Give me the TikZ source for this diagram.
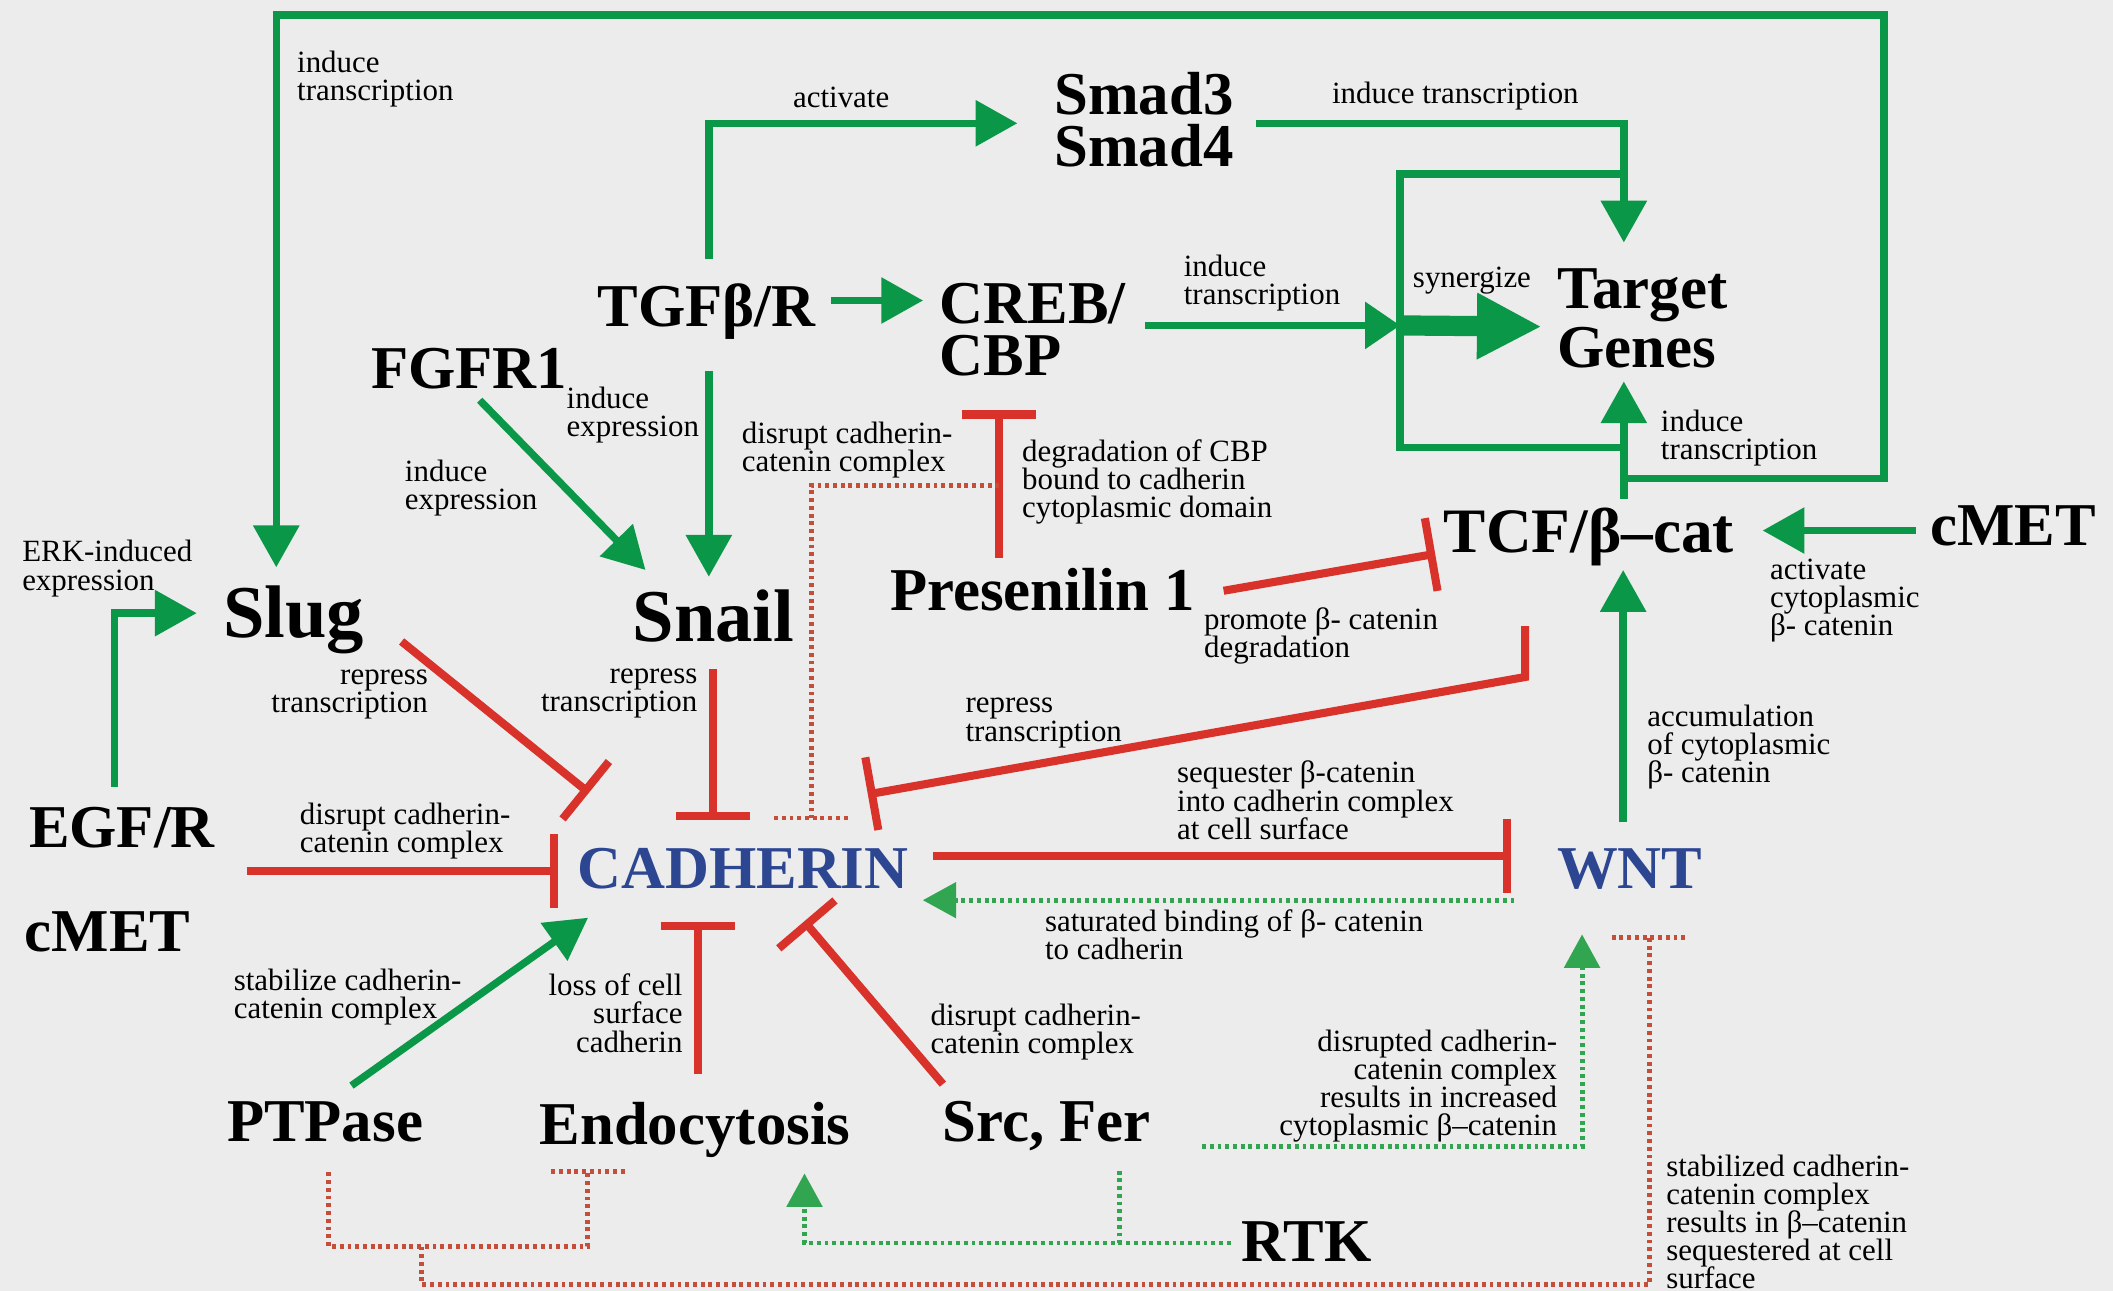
\documentclass[tikz,border=0pt]{standalone}
\usepackage{fontspec}
\setmainfont{Liberation Serif}
\usetikzlibrary{arrows.meta}
\definecolor{bgc}{RGB}{236,236,236}
\definecolor{gr}{RGB}{10,152,72}
\definecolor{rd}{RGB}{216,50,42}
\definecolor{blu}{RGB}{44,70,146}
\definecolor{rdot}{RGB}{196,78,58}
\definecolor{gdot}{RGB}{50,165,80}
\newcommand\tightls{\lineskiplimit-30pt\relax\lineskip0pt\relax}
\begin{document}
\lineskiplimit-30pt\relax
\begin{tikzpicture}[x=0.013476cm,y=-0.013476cm,
  lab/.style={inner sep=0pt,anchor=base west,font=\fontsize{17.3}{17}\selectfont\bfseries},
  biglab/.style={inner sep=0pt,anchor=base west,font=\fontsize{21.2}{21}\selectfont\bfseries},
  ann/.style={inner sep=0pt,anchor=base west,align=left,font=\fontsize{8.8}{8}\selectfont\tightls},
  annr/.style={inner sep=0pt,anchor=base east,align=right,font=\fontsize{8.8}{8}\selectfont\tightls},
  gline/.style={draw=gr,line width=2.1pt},
  garr/.style={draw=gr,line width=2.1pt,-{Triangle[width=12.7pt,length=11.9pt]}},
  rinh/.style={draw=rd,line width=2.3pt,-{Bar[width=21pt]}},
  rdotl/.style={draw=rdot,line width=1.4pt,dash pattern=on 1.1pt off 1.1pt},
  gdotl/.style={draw=gdot,line width=1.4pt,dash pattern=on 1.1pt off 1.1pt},
  gdotarr/.style={gdotl,-{Triangle[width=10pt,length=9.5pt]}}]
\fill[bgc] (0,0) rectangle (1568,958);
\useasboundingbox (0,0) rectangle (1568,958);

% ---------- main labels (anchor = baseline of last line) ----------
\node[lab,align=left,font=\fontsize{17.3}{14.8}\selectfont\bfseries\tightls] (smad) at (782,123.6) {Smad3\\Smad4};
\node[lab] (tgf) at (443,242) {TGFβ/R};
\node[lab,align=left,font=\fontsize{17.3}{15}\selectfont\bfseries\tightls] (creb) at (697,279) {CREB/\\CBP};
\node[lab,align=left,font=\fontsize{17.3}{16.7}\selectfont\bfseries\tightls] (target) at (1155,272.6) {Target\\Genes};
\node[lab] (fgfr) at (275,288) {FGFR1};
\node[biglab] (slug) at (165,473) {Slug};
\node[biglab] (snail) at (469,476) {Snail};
\node[lab] (pres) at (660,453) {Presenilin 1};
\node[lab,font=\fontsize{18}{18}\selectfont\bfseries] (tcf) at (1071,410) {TCF/β–cat};
\node[lab] (cmetr) at (1432,405) {cMET};
\node[lab] (egf) at (21,629) {EGF/R};
\node[lab] (cmetl) at (18,706) {cMET};
\node[lab,text=blu] (cad) at (428,659) {CADHERIN};
\node[lab,text=blu] (wnt) at (1155,659) {WNT};
\node[lab] (ptp) at (168,847) {PTPase};
\node[lab] (endo) at (400,849) {Endocytosis};
\node[lab] (src) at (699,847) {Src, Fer};
\node[lab] (rtk) at (921,936) {RTK};

% ---------- annotations (anchor = baseline of last line) ----------
\node[ann] (a1) at (220,74.9) {induce\\transcription};
\node[ann] (a2) at (588,80) {activate};
\node[ann] (a3) at (988,77) {induce transcription};
\node[ann] (a4) at (878,225.9) {induce\\transcription};
\node[ann] (a5) at (1048,213) {synergize};
\node[ann] (a6) at (420,323.9) {induce\\expression};
\node[ann] (a7) at (300,377.9) {induce\\expression};
\node[ann] (a8) at (550,349.9) {disrupt cadherin-\\catenin complex};
\node[ann] (a9) at (758,384.3) {degradation of CBP\\bound to cadherin\\cytoplasmic domain};
\node[ann] (a10) at (1232,340.9) {induce\\transcription};
\node[ann] (a11) at (16,437.9) {ERK-induced\\expression};
\node[ann] (a12) at (1313,471.7) {activate\\cytoplasmic\\β- catenin};
\node[ann] (a13) at (893,487.9) {promote β- catenin\\degradation};
\node[annr] (a14) at (318,528.9) {repress\\transcription};
\node[annr] (a15) at (518,527.9) {repress\\transcription};
\node[ann] (a16) at (716,549.9) {repress\\transcription};
\node[ann] (a17) at (1222,580.7) {accumulation\\of cytoplasmic\\β- catenin};
\node[ann] (a18) at (873,622.7) {sequester β-catenin\\into cadherin complex\\at cell surface};
\node[ann] (a19) at (222,632.9) {disrupt cadherin-\\catenin complex};
\node[ann] (a20) at (775,711.9) {saturated binding of β- catenin\\to cadherin};
\node[ann] (a21) at (173,755.9) {stabilize cadherin-\\catenin complex};
\node[annr] (a22) at (507,780.7) {loss of cell\\surface\\cadherin};
\node[ann] (a23) at (690,781.9) {disrupt cadherin-\\catenin complex};
\node[annr] (a24) at (1156,842.6) {disrupted cadherin-\\catenin complex\\results in increased\\cytoplasmic β–catenin};
\node[ann] (a25) at (1236,956.5) {stabilized cadherin-\\catenin complex\\results in β–catenin\\sequestered at cell\\surface};

% ---------- named connector ends ----------
\coordinate (tcfTop) at (1205,370);
\coordinate (tgTipB) at (1205,283);
\coordinate (jA) at (1205,355);
\coordinate (slugTip) at (205,421);
\coordinate (jB) at (1205,332);
\coordinate (jC) at (1205,129);
\coordinate (tgfUp) at (526,192);
\coordinate (smadTip) at (755,91.5);
\coordinate (tgfR) at (617,223);
\coordinate (crebTip) at (685,223);
\coordinate (tgfDn) at (526,275);
\coordinate (snailTip) at (526,428);
\coordinate (fgfOut) at (356,297);
\coordinate (snailTip2) at (479,423);
\coordinate (smadOut) at (932,91.5);
\coordinate (tgTipT) at (1205,180);
\coordinate (crebOut) at (850,241.5);
\coordinate (jD) at (1039,241.5);
\coordinate (tgTipL) at (1144,242.4);
\coordinate (cmetOut) at (1421.6,393.7);
\coordinate (tcfTipR) at (1308,393.7);
\coordinate (wntUp) at (1204.5,610);
\coordinate (tcfTipB) at (1204.5,423);
\coordinate (ptpOut) at (260.8,805.6);
\coordinate (cadTipP) at (436.4,681);
\coordinate (egfUp) at (85,584);
\coordinate (slugTipL) at (146,455);

\coordinate (slugOut) at (298,476);
\coordinate (cadBarS) at (437,588.3);
\coordinate (snailOut) at (529,496.5);
\coordinate (cadBarN) at (529,608.5);
\coordinate (tcfOut) at (1131.7,464.6);
\coordinate (cadBarNE) at (644,589.5);
\coordinate (egfOut) at (183,646.3);
\coordinate (cadBarW) at (414,646.3);
\coordinate (cadOut) at (692,635);
\coordinate (wntBar) at (1121.6,635);
\coordinate (endoOut) at (517.7,797);
\coordinate (cadBarB) at (517.7,684.4);
\coordinate (srcOut) at (699.7,804.5);
\coordinate (cadBarSE) at (596.8,683.7);
\coordinate (presOut) at (908,438.4);
\coordinate (tcfBar) at (1065,411);
\coordinate (presUp) at (741.5,413.8);
\coordinate (crebBar) at (741.5,304.6);

\coordinate (presJ) at (741.5,360);
\coordinate (cadDotN) at (602,607);
\coordinate (ptpDn) at (244,870);
\coordinate (endoDot) at (436,869);
\coordinate (ptpJ) at (313,925);
\coordinate (wntDot) at (1224,695.8);
\coordinate (wntDotOut) at (1123.8,668);
\coordinate (cadTipE) at (684.8,668);
\coordinate (srcR) at (892,850.9);
\coordinate (wntTipB) at (1174,693.4);
\coordinate (rtkOut) at (913.2,922.4);
\coordinate (endoTip) at (597,870.8);
\coordinate (srcDn) at (830.4,868.7);

% ---------- green solid connectors ----------
\draw[garr] (tcfTop) -- (tgTipB);
\draw[garr] (jA) -- (1398,355) -- (1398,11) -- (205,11) -- (slugTip);
\draw[gline] (jB) -- (1039,332) -- (1039,129) -- (jC);
\draw[garr] (tgfUp) |- (smadTip);
\draw[garr] (tgfR) -- (crebTip);
\draw[garr] (tgfDn) -- (snailTip);
\draw[garr] (fgfOut) -- (snailTip2);
\draw[garr] (smadOut) -| (tgTipT);
\draw[gline,-{Triangle[width=13pt,length=10pt]}] (crebOut) -- (jD);
\draw[draw=gr,line width=5.75pt,-{Triangle[width=17.6pt,length=18.4pt]}] (jD) -- (tgTipL);
\draw[garr] (cmetOut) -- (tcfTipR);
\draw[garr] (wntUp) -- (tcfTipB);
\draw[garr] (ptpOut) -- (cadTipP);
\draw[garr] (egfUp) |- (slugTipL);

% ---------- red inhibitions ----------
\draw[rinh] (slugOut) -- (cadBarS);
\draw[rinh] (snailOut) -- (cadBarN);
\draw[rinh] (tcfOut) -- (1131.7,502.4) -- (cadBarNE);
\draw[rinh] (egfOut) -- (cadBarW);
\draw[rinh] (cadOut) -- (wntBar);
\draw[rinh] (endoOut) -- (cadBarB);
\draw[rinh] (srcOut) -- (cadBarSE);
\draw[rinh] (presOut) -- (tcfBar);
\draw[rinh] (presUp) -- (crebBar);

% ---------- dotted connectors ----------
\draw[rdotl] (presJ) -- (602,360) -- (cadDotN);
\draw[rdotl] (574.4,607) -- (629.6,607);
\draw[rdotl] (ptpDn) -- (244,925) -- (436,925) -- (endoDot);
\draw[rdotl] (409,869) -- (464,869);
\draw[rdotl] (ptpJ) -- (313,953.3) -- (1224,953.3) -- (wntDot);
\draw[rdotl] (1196,695.8) -- (1253,695.8);
\draw[gdotarr] (wntDotOut) -- (cadTipE);
\draw[gdotarr] (srcR) -| (wntTipB);
\draw[gdotarr] (rtkOut) -| (endoTip);
\draw[gdotl] (srcDn) -- (830.4,922.4);
\end{tikzpicture}
\end{document}
